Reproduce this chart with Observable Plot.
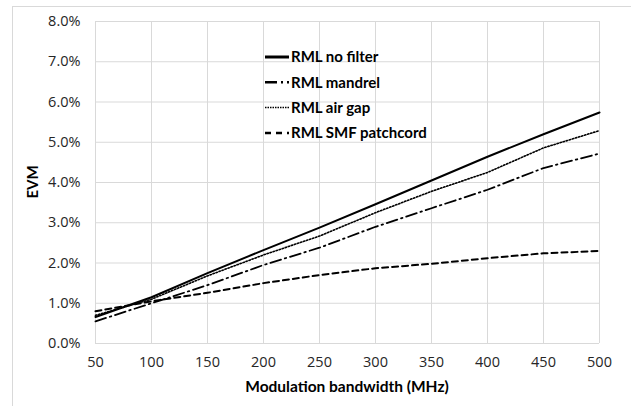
<!DOCTYPE html>
<html>
<head>
<meta charset="utf-8">
<script src="https://cdn.jsdelivr.net/npm/d3@7"></script>
<script src="https://cdn.jsdelivr.net/npm/@observablehq/plot@0.6"></script>
<style>
  html, body { margin: 0; padding: 0; background: #fff; }
  #wrap { position: relative; width: 631px; height: 406px; overflow: hidden; }
  #frame { position: absolute; left: 12px; top: 6px; width: 640px; height: 420px;
           border-left: 1px solid #d9d9d9; border-top: 1px solid #d9d9d9; box-sizing: border-box; pointer-events: none; }
  #overlay { position: absolute; left: 0; top: 0; font-family: Lato, "Open Sans", sans-serif; }
  #chartbox svg text { font-family: "Open Sans", sans-serif !important; font-size: 14.5px !important; fill: #262626 !important; }
</style>
</head>
<body>
<div id="wrap"><div id="frame"></div><div id="chartbox"></div></div>
<script>
const bandwidth = [50, 100, 150, 200, 250, 300, 350, 400, 450, 500];
const seriesNames = ["RML no filter", "RML mandrel", "RML air gap", "RML SMF patchcord"];
const noFilter = [0.66, 1.15, 1.75, 2.32, 2.88, 3.46, 4.05, 4.64, 5.20, 5.74];
const mandrel  = [0.55, 1.00, 1.45, 1.95, 2.38, 2.90, 3.36, 3.82, 4.36, 4.72];
const airGap   = [0.70, 1.10, 1.68, 2.20, 2.67, 3.25, 3.78, 4.25, 4.86, 5.29];
const smf      = [0.80, 1.05, 1.26, 1.50, 1.70, 1.87, 1.98, 2.12, 2.24, 2.30];
const yTicks = [0, 1, 2, 3, 4, 5, 6, 7, 8];
const xTicks = bandwidth;
const xTitle = "Modulation bandwidth (MHz)";
const yTitle = "EVM";

const styles = {
  "RML no filter":     {dash: null,         width: 2},
  "RML mandrel":       {dash: "11,4,1.5,4", width: 1.8},
  "RML air gap":       {dash: "1.4,1.8",    width: 1.6},
  "RML SMF patchcord": {dash: "6,4",        width: 2}
};

const allValues = [noFilter, mandrel, airGap, smf];
const rows = [];
seriesNames.forEach((name, i) => {
  bandwidth.forEach((b, j) => rows.push({series: name, bw: b, evm: allValues[i][j]}));
});

const lineMarks = seriesNames.map(name => Plot.line(rows.filter(r => r.series === name), {
  x: "bw", y: "evm", stroke: "#000", strokeWidth: styles[name].width,
  strokeDasharray: styles[name].dash, curve: "linear"
}));

const W = 631, H = 406, ML = 95, MR = 32, MT = 21, MB = 63;
const chart = Plot.plot({
  width: W, height: H,
  marginLeft: ML, marginRight: MR, marginTop: MT, marginBottom: MB,
  style: {fontFamily: "'Open Sans', sans-serif", fontSize: "14.5px", color: "#262626", background: "transparent"},
  x: {domain: [50, 500], ticks: xTicks, tickSize: 0, tickPadding: 13, label: null, tickFormat: d => d},
  y: {domain: [0, 8], ticks: yTicks, tickSize: 0, tickPadding: 15, label: null, tickFormat: d => d.toFixed(1) + "%"},
  marks: [
    Plot.gridX(xTicks, {stroke: "#d9d9d9", strokeOpacity: 1, strokeWidth: 1}),
    Plot.gridY(yTicks, {stroke: "#d9d9d9", strokeOpacity: 1, strokeWidth: 1}),
    ...lineMarks
  ]
});
document.getElementById("chartbox").appendChild(chart);

// Overlay: axis titles and legend
const ov = d3.select("#wrap").append("svg").attr("id", "overlay").attr("width", W).attr("height", H);
const cx = ML + (W - ML - MR) / 2, cy = MT + (H - MT - MB) / 2;
ov.append("text").attr("x", cx).attr("y", 387).attr("dy", "0.35em").attr("text-anchor", "middle")
  .attr("font-weight", "bold").attr("font-size", "15.5px").attr("fill", "#000").text(xTitle);
ov.append("text").attr("transform", `translate(33,${cy}) rotate(-90)`).attr("dy", "0.35em")
  .attr("text-anchor", "middle").attr("font-weight", "bold").attr("font-size", "15px").attr("fill", "#000").text(yTitle);

seriesNames.forEach((name, i) => {
  const yy = 57 + i * 25.3;
  const g = ov.append("g");
  g.append("line").attr("x1", 265).attr("x2", 289).attr("y1", yy).attr("y2", yy)
    .attr("stroke", "#000").attr("stroke-width", i === 0 ? 3 : (i === 2 ? 1.5 : 2.5))
    .attr("stroke-dasharray", i === 1 ? "12,4,2,4" : (i === 3 ? "6,5" : (i === 2 ? "1.5,1" : null)));
  g.append("text").attr("x", 291).attr("y", yy).attr("dy", "0.35em")
    .attr("font-weight", "bold").attr("font-size", "15px").attr("fill", "#000").text(name);
});
</script>
</body>
</html>
